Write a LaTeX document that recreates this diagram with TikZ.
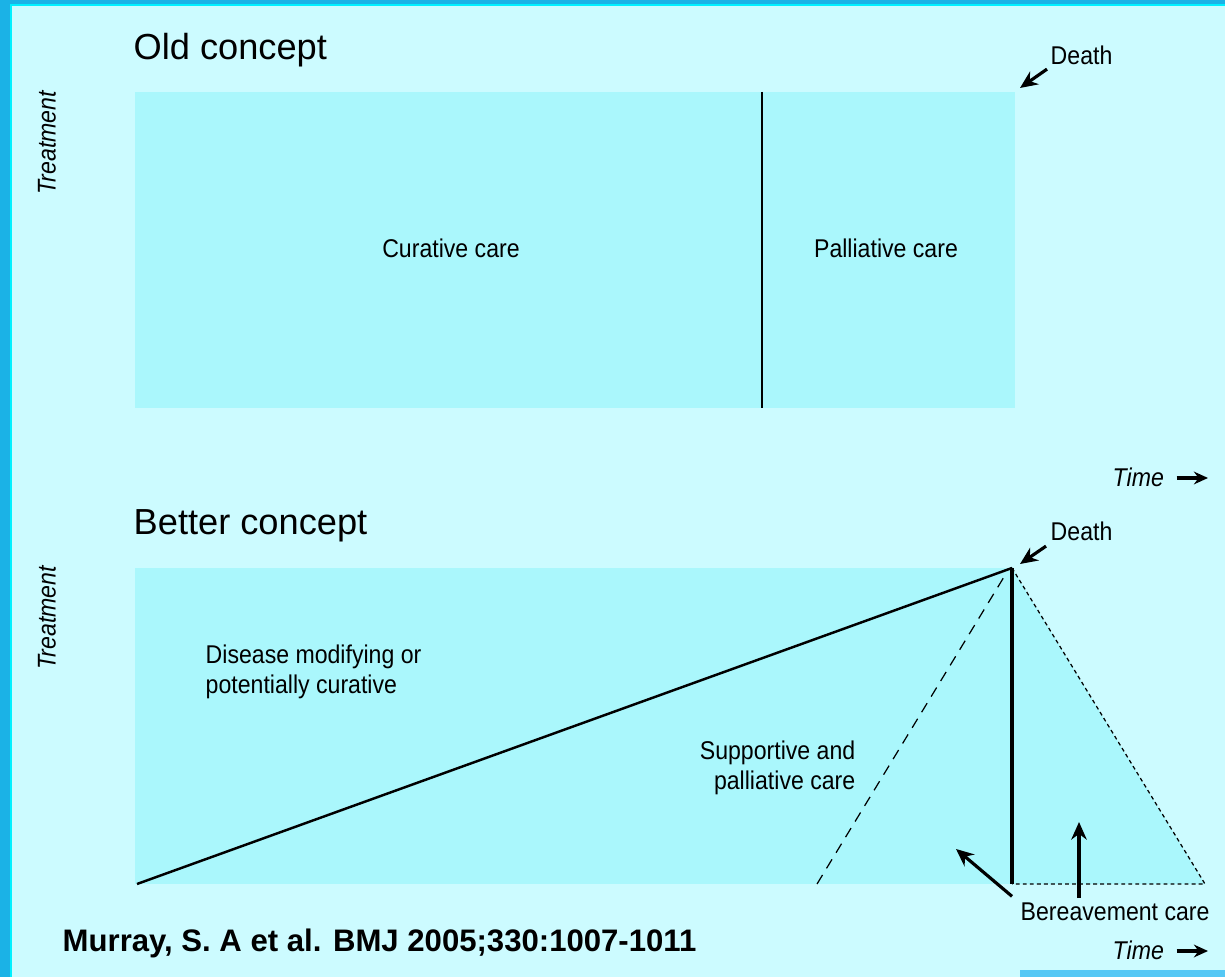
\documentclass[tikz,border=0pt]{standalone}
\usepackage{fontspec}
\setmainfont{Liberation Sans}
\newfontfamily\narrowsf[FakeStretch=0.9]{Liberation Sans}
\usepackage{tikz}
\usetikzlibrary{arrows.meta,calc,positioning}
\definecolor{paper}{RGB}{204,251,255}
\definecolor{boxcyan}{RGB}{170,247,252}
\definecolor{frameblue}{RGB}{27,178,230}
\definecolor{rimcyan}{RGB}{0,240,255}
\definecolor{barblue}{RGB}{85,200,245}
\tikzset{
  lbl/.style={inner sep=0pt, font=\narrowsf\fontsize{7.3}{8.6}\selectfont},
  ital/.style={inner sep=0pt, font=\narrowsf\itshape\fontsize{7.3}{8.6}\selectfont},
  heading/.style={inner sep=0pt, anchor=west, font=\fontsize{10.3}{12}\selectfont},
  pointer/.style={line width=0.9pt, -{Stealth[length=5pt,width=4.4pt]}},
  timearrow/.style={line width=0.9pt, -{Stealth[length=4pt,width=3.6pt]}},
  divide/.style={line width=0.7pt},
  heavy/.style={line width=0.9pt},
  longdash/.style={line width=0.35pt, dash pattern=on 3pt off 2.2pt},
  shortdash/.style={line width=0.35pt, dash pattern=on 1.1pt off 0.9pt}
}
\begin{document}
\begin{tikzpicture}[x=0.01cm,y=-0.01cm]
  % Frame
  \fill[paper] (0,0) rectangle (1225,977);
  \fill[frameblue] (0,0) rectangle (10,977);
  \fill[frameblue] (0,0) rectangle (1225,4);
  \fill[rimcyan] (10,4) rectangle (12,977);
  \fill[rimcyan] (10,4) rectangle (1225,6);
  \fill[barblue] (1020,970) rectangle (1225,977);
  \useasboundingbox (0,0) rectangle (1225,977);

  % Old concept
  \coordinate (A) at (135,92);
  \coordinate (B) at (1015,408);
  \coordinate (C) at (762,92);
  \coordinate (D) at (762,408);
  \fill[boxcyan] (A) rectangle (B);
  \draw[divide] (C) -- (D);
  \node[heading] (oldtitle) at (133,50) {Old concept};
  \node[ital, rotate=90] (treatold) at (47,143) {Treatment};
  \node[lbl] (curative) at (451,248) {Curative care};
  \node[lbl] (palliative) at (886,248) {Palliative care};
  \node[lbl, anchor=west] (deathold) at (1050,55) {Death};
  \coordinate (tipold) at (1020,88);
  \draw[pointer] ($(deathold.south west)+(-3,4)$) -- (tipold);
  \node[ital, anchor=west] (timeold) at (1112,477) {Time};
  \coordinate (endold) at (1208,478);
  \draw[timearrow] ($(timeold.east)+(12,1)$) -- (endold);

  % Better concept
  \coordinate (E) at (135,568);
  \coordinate (F) at (1010,884);
  \coordinate (G) at (1012,568);
  \coordinate (H) at (1012,884);
  \coordinate (I) at (1205,884);
  \coordinate (J) at (137,884);
  \coordinate (K) at (817,884);
  \coordinate (L) at (1007,572);
  \fill[boxcyan] (E) rectangle (F);
  \fill[boxcyan] (G) -- (I) -- (H) -- cycle;
  \draw[divide] (J) -- (G);
  \draw[longdash] (K) -- (L);
  \draw[shortdash] (G) -- (I) -- (H);
  \draw[heavy] (G) -- (H);
  \node[heading] (bettertitle) at (133,526) {Better concept};
  \node[ital, rotate=90] (treatnew) at (47,618) {Treatment};
  \node[lbl, anchor=north west, align=left] (disease) at (205,644)
    {Disease modifying or\\potentially curative};
  \node[lbl, anchor=north east, align=right] (supportive) at (856,740)
    {Supportive and\\palliative care};
  \node[lbl, anchor=west] (deathnew) at (1050,531) {Death};
  \coordinate (tipnew) at (1020,564);
  \draw[pointer] ($(deathnew.south west)+(-4,5)$) -- (tipnew);
  \node[lbl, anchor=west] (bereave) at (1020,912) {Bereavement care};
  \coordinate (tipleft) at (956,849);
  \coordinate (tipup) at (1079,822);
  \coordinate (footup) at (1079,898);
  \draw[pointer] ($(bereave.north west)+(-8,-6)$) -- (tipleft);
  \draw[pointer] (footup) -- (tipup);
  \node[ital, anchor=west] (timenew) at (1112,950) {Time};
  \coordinate (endnew) at (1208,951);
  \draw[timearrow] ($(timenew.east)+(12,1)$) -- (endnew);

  % Source
  \node[inner sep=0pt, anchor=west, font=\bfseries\fontsize{8.85}{10}\selectfont]
    (source) at (62,943) {Murray, S. A et al. BMJ 2005;330:1007-1011};
\end{tikzpicture}
\end{document}
